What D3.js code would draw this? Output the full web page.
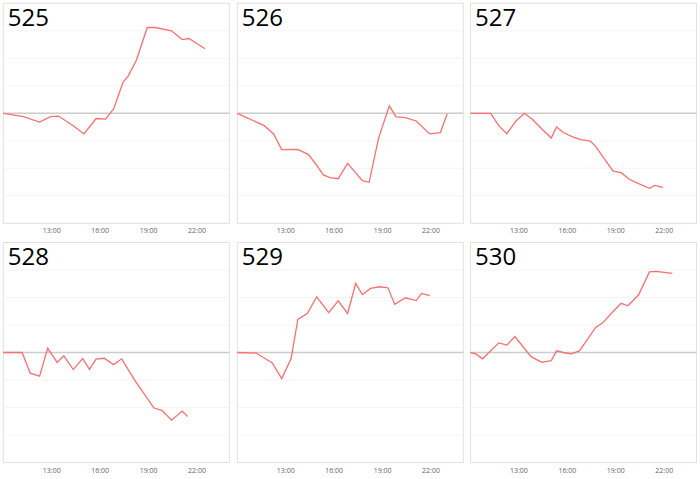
<!DOCTYPE html>
<html>
<head>
<meta charset="utf-8">
<script src="https://cdn.jsdelivr.net/npm/d3@7"></script>
<style>
  body { margin: 0; background: #fff; }
  text { font-family: "Open Sans", "Noto Sans", sans-serif; }
</style>
</head>
<body>
<div id="chart"></div>
<script>
// panel names, in reading order
const panelNames = ["525", "526", "527", "528", "529", "530"];

const times525 = ["10:00","11:15","12:15","12:55","13:25","14:20","15:00","15:45","16:20","16:50","17:25","17:45","18:15","18:55","19:25","20:25","21:05","21:30","22:30"];
const values525 = [0, -0.12, -0.32, -0.12, -0.10, -0.45, -0.75, -0.19, -0.21, 0.16, 1.13, 1.37, 1.94, 3.12, 3.12, 3.0, 2.68, 2.72, 2.35];

const times526 = ["10:00","11:40","12:15","12:45","13:45","14:25","15:00","15:20","15:45","16:15","16:50","17:45","18:10","18:45","19:25","19:50","20:25","21:05","21:55","22:35","23:00"];
const values526 = [0, -0.45, -0.75, -1.32, -1.31, -1.5, -1.96, -2.24, -2.34, -2.38, -1.82, -2.45, -2.51, -0.91, 0.27, -0.13, -0.16, -0.28, -0.75, -0.70, -0.02];

const times527 = ["10:00","11:15","11:45","12:15","12:50","13:20","13:50","14:15","15:00","15:20","15:45","16:20","16:50","17:25","17:45","18:50","19:20","19:50","20:25","21:05","21:25","21:55"];
const values527 = [0, 0, -0.45, -0.74, -0.27, 0, -0.22, -0.47, -0.9, -0.5, -0.7, -0.86, -0.96, -1.01, -1.2, -2.1, -2.16, -2.4, -2.56, -2.73, -2.62, -2.69];

const times528 = ["10:00","11:10","11:40","12:15","12:45","13:20","13:45","14:20","14:55","15:20","15:45","16:15","16:50","17:20","18:10","18:45","19:20","19:50","20:25","21:05","21:25"];
const values528 = [0, 0, -0.75, -0.86, 0.16, -0.36, -0.12, -0.62, -0.22, -0.61, -0.24, -0.21, -0.44, -0.23, -1.03, -1.52, -2.02, -2.1, -2.46, -2.13, -2.33];

const times529 = ["10:00","11:10","12:10","12:45","13:20","13:45","14:20","14:55","15:40","16:15","16:50","17:20","17:45","18:15","18:50","19:20","19:45","20:25","21:05","21:25","21:55"];
const values529 = [0, -0.02, -0.38, -0.95, -0.22, 1.2, 1.42, 2.02, 1.45, 1.88, 1.42, 2.51, 2.11, 2.33, 2.39, 2.35, 1.75, 1.99, 1.89, 2.15, 2.07];

const times530 = ["10:00","10:20","10:45","11:45","12:15","12:45","13:45","14:25","15:00","15:20","15:45","16:15","16:45","17:45","18:10","18:50","19:20","19:45","20:25","21:05","21:30","22:30"];
const values530 = [0, -0.05, -0.23, 0.35, 0.27, 0.58, -0.15, -0.36, -0.3, 0.06, 0, -0.05, 0.06, 0.91, 1.07, 1.49, 1.79, 1.7, 2.1, 2.93, 2.95, 2.88];

const tickLabels = ["13:00", "16:00", "19:00", "22:00"];
const gridValues = [-3, -2, -1, 1, 2, 3];

const seriesTimes = [times525, times526, times527, times528, times529, times530];
const seriesValues = [values525, values526, values527, values528, values529, values530];

const width = 700, height = 479;
const panelW = 226, panelH = 220;
const panelLefts = [3.3, 237.3, 470.5];
const panelTops = [3.3, 242.5];

const toHours = s => { const [h, m] = s.split(":").map(Number); return h + m / 60; };

const svg = d3.select("#chart").append("svg")
  .attr("width", width)
  .attr("height", height);

const x = d3.scaleLinear().domain([10, 24]).range([0, panelW]);
const y = d3.scaleLinear().domain([-4, 4]).range([panelH, 0]);

panelNames.forEach((name, i) => {
  const g = svg.append("g")
    .attr("transform", `translate(${panelLefts[i % 3]},${panelTops[Math.floor(i / 3)]})`);

  g.append("rect")
    .attr("width", panelW).attr("height", panelH)
    .attr("fill", "#fff")
    .attr("stroke", "#e2e2e2");

  g.selectAll(".grid").data(gridValues).join("line")
    .attr("x1", 0).attr("x2", panelW)
    .attr("y1", d => y(d)).attr("y2", d => y(d))
    .attr("stroke", "#f4f4f4");

  g.append("line")
    .attr("x1", 0).attr("x2", panelW)
    .attr("y1", y(0)).attr("y2", y(0))
    .attr("stroke", "#cccccc")
    .attr("stroke-width", 1.5);

  g.selectAll(".tick").data(tickLabels).join("text")
    .attr("x", d => x(toHours(d)))
    .attr("y", panelH + 10)
    .attr("text-anchor", "middle")
    .attr("font-size", 7)
    .attr("fill", "#666")
    .text(d => d);

  const pts = seriesTimes[i].map((t, k) => [toHours(t), seriesValues[i][k]]);
  const line = d3.line().x(d => x(d[0])).y(d => y(d[1]));
  g.append("path")
    .attr("d", line(pts))
    .attr("fill", "none")
    .attr("stroke", "#ff6e6e")
    .attr("stroke-width", 1.3);

  g.append("text")
    .attr("x", 4.5)
    .attr("y", 22.5)
    .attr("font-size", 24)
    .attr("fill", "#000")
    .text(name);
});
</script>
</body>
</html>
